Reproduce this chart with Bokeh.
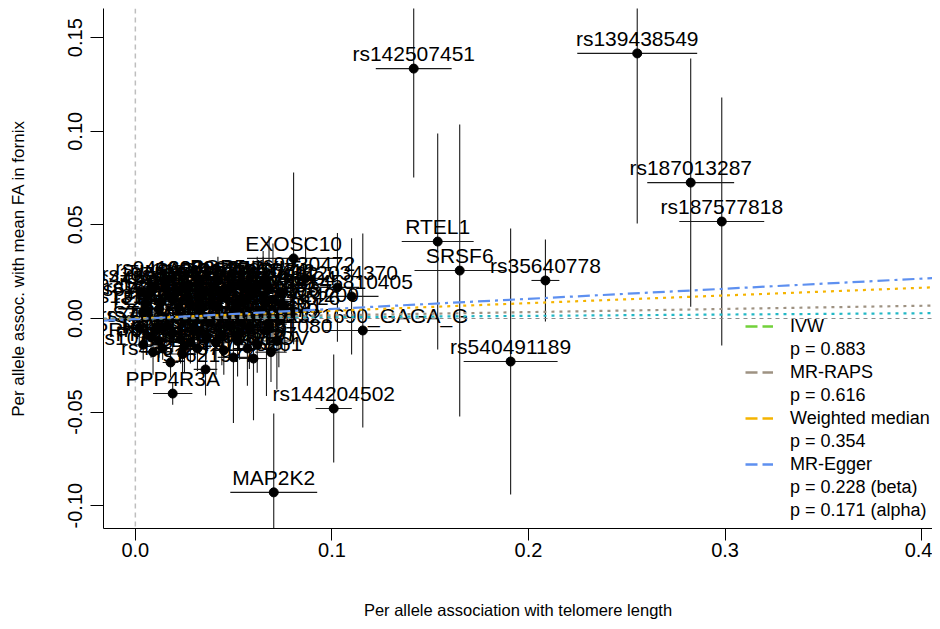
import numpy as np
from bokeh.plotting import figure
from bokeh.models import Range1d, FixedTicker, Span, Legend, LegendItem, ColumnDataSource
from bokeh.core.properties import value
from bokeh.embed import file_html
from bokeh.resources import INLINE

# ---------------- data ----------------
snp_label = [
    "rs142507451", "rs139438549", "rs187013287", "rs187577818", "RTEL1", "SRSF6",
    "rs35640778", "rs540491189", "rs144204502", "MAP2K2", "rs62321690_GAGA_G",
    "EXOSC10", "PPP4R3A", "rs112034370", "rs145810405", "rs9930472", "LOC101927412",
    "PPP1R3B", "rs1621977", "rs1125261", "rs4387287", "rs10936599", "rs7675998",
    "rs8105767", "rs2736100", "rs7705526",
    "TERT", "TERC", "OBFC1", "NAF1", "ACYP2", "ZNF208", "CTC1", "DCAF4", "PXK",
    "ZNF676", "MPHOSPH6", "SENP7", "TERF1", "TINF2", "POT1", "PARP1", "ATM",
    "NKX2-3", "MYNN", "BICD1", "CXCR4", "PRRC2A", "DHX35", "SAMHD1", "STN1",
    "rs6772228", "rs2293607", "rs7726159", "rs3027234", "rs412658", "rs11125529",
    "rs10784470", "rs2302588", "rs3785074", "rs9419958", "rs1317082", "rs4452212",
    "rs55749605", "rs6028466", "rs75691080", "LOC102724200", "rs2853677",
    "rs7194734", "rs11787341",
    "rs1975174", "rs2967374", "rs4691895", "rs6060627", "rs7776744", "rs8316",
    "rs10466239", "rs11191865", "rs12696304", "rs13137667", "rs16847897", "rs2124616",
    "rs2630778", "rs3219104", "rs4902100", "rs55985967", "rs59294613", "rs6560979",
    "rs7252767", "rs74619035", "rs8068318", "rs9325507", "rs9972838", "LOC105372",
    "SH2B3", "TYMS", "MYEOV", "PRKAR1B", "RFWD3", "CCDC26", "CARMIL1", "POP5",
    "ETAA1", "TSPYL5", "AKT3", "ZBTB46",
]
beta_x = [
    0.1416, 0.2553, 0.2825, 0.2983, 0.1538, 0.1650,
    0.2086, 0.1909, 0.1009, 0.0704, 0.1157,
    0.0805, 0.0190, 0.1028, 0.1100, 0.0866, 0.0535,
    0.0139, 0.0357, 0.0601, 0.0179, 0.0316, 0.0499,
    0.0570, 0.0667, 0.0790,
    0.0060, 0.0120, 0.0210, 0.0280, 0.0350, 0.0420, 0.0160, 0.0240, 0.0300,
    0.0380, 0.0460, 0.0080, 0.0040, 0.0100, 0.0190, 0.0270, 0.0330,
    0.0440, 0.0500, 0.0550, 0.0600, 0.0640, 0.0700, 0.0730, 0.0020,
    0.0050, 0.0140, 0.0230, 0.0320, 0.0400, 0.0480,
    0.0090, 0.0580, 0.0620, 0.0150, 0.0680, 0.0030,
    0.0410, 0.0520, 0.0720, 0.0760, 0.0250,
    0.0110, 0.0650,
    0.0080, 0.0170, 0.0250, 0.0330, 0.0440, 0.0510,
    0.0580, 0.0660, 0.0740, 0.0060, 0.0130, 0.0220,
    0.0310, 0.0390, 0.0470, 0.0540, 0.0610, 0.0680,
    0.0750, 0.0100, 0.0190, 0.0280, 0.0360, 0.0450,
    0.0530, 0.0620, 0.0690, 0.0040, 0.0120, 0.0240,
    0.0340, 0.0420, 0.0570, 0.0650, 0.0270, 0.0480,
]
beta_y = [
    0.1335, 0.1416, 0.0726, 0.0518, 0.0411, 0.0256,
    0.0203, -0.0230, -0.0481, -0.0929, -0.0064,
    0.0321, -0.0401, 0.0166, 0.0118, 0.0214, 0.0176,
    -0.0160, -0.0272, -0.0214, -0.0235, -0.0160, -0.0208,
    -0.0160, -0.0064, 0.0032,
    0.0120, 0.0050, 0.0140, 0.0080, 0.0150, 0.0060, -0.0040, 0.0010, -0.0070,
    -0.0020, 0.0110, -0.0100, 0.0030, 0.0170, 0.0100, 0.0180, 0.0030,
    -0.0090, 0.0030, 0.0090, 0.0140, 0.0040, 0.0100, -0.0010, -0.0050,
    0.0080, 0.0010, -0.0110, 0.0110, 0.0170, -0.0040,
    -0.0180, -0.0050, 0.0180, 0.0190, 0.0160, 0.0140,
    -0.0130, -0.0120, -0.0120, 0.0050, -0.0150,
    -0.0060, 0.0120,
    0.0160, 0.0120, 0.0160, 0.0190, 0.0140, 0.0080,
    0.0120, 0.0080, 0.0140, 0.0040, 0.0090, 0.0060,
    0.0000, 0.0080, 0.0010, -0.0020, 0.0010, -0.0030,
    0.0070, -0.0060, -0.0080, -0.0130, -0.0100, -0.0170,
    -0.0080, -0.0140, -0.0180, -0.0140, -0.0120, -0.0190,
    0.0060, 0.0200, 0.0180, 0.0190, 0.0110, 0.0160,
]
ci_x = [
    0.0193, 0.0305, 0.0221, 0.0216, 0.0183, 0.0230,
    0.0071, 0.0239, 0.0092, 0.0221, 0.0196,
    0.0237, 0.0100, 0.0110, 0.0137, 0.0120, 0.0060,
    0.0050, 0.0060, 0.0070, 0.0040, 0.0060, 0.0080,
    0.0070, 0.0090, 0.0100,
    0.0050, 0.0060, 0.0070, 0.0050, 0.0080, 0.0060, 0.0050, 0.0070, 0.0060,
    0.0080, 0.0090, 0.0060, 0.0070, 0.0050, 0.0060, 0.0080, 0.0070,
    0.0090, 0.0060, 0.0080, 0.0070, 0.0090, 0.0100, 0.0080, 0.0060,
    0.0050, 0.0060, 0.0070, 0.0080, 0.0060, 0.0090,
    0.0060, 0.0100, 0.0080, 0.0070, 0.0090, 0.0080,
    0.0070, 0.0080, 0.0110, 0.0090, 0.0060,
    0.0070, 0.0080,
    0.0060, 0.0050, 0.0070, 0.0060, 0.0080, 0.0050,
    0.0070, 0.0090, 0.0060, 0.0050, 0.0060, 0.0070,
    0.0080, 0.0060, 0.0070, 0.0050, 0.0080, 0.0090,
    0.0070, 0.0060, 0.0050, 0.0070, 0.0080, 0.0060,
    0.0070, 0.0090, 0.0080, 0.0050, 0.0060, 0.0070,
    0.0060, 0.0080, 0.0070, 0.0090, 0.0060, 0.0070,
]
ci_y = [
    0.0582, 0.0909, 0.0663, 0.0663, 0.0577, 0.0780,
    0.0219, 0.0711, 0.0288, 0.0422, 0.0518,
    0.0459, 0.0060, 0.0290, 0.0310, 0.0220, 0.0120,
    0.0060, 0.0139, 0.0330, 0.0080, 0.0120, 0.0350,
    0.0200, 0.0350, 0.0150,
    0.0080, 0.0100, 0.0120, 0.0090, 0.0110, 0.0130, 0.0100, 0.0090, 0.0120,
    0.0140, 0.0150, 0.0110, 0.0090, 0.0080, 0.0100, 0.0120, 0.0130,
    0.0160, 0.0140, 0.0150, 0.0170, 0.0200, 0.0300, 0.0250, 0.0100,
    0.0090, 0.0110, 0.0130, 0.0120, 0.0100, 0.0180,
    0.0120, 0.0220, 0.0150, 0.0090, 0.0280, 0.0100,
    0.0170, 0.0190, 0.0260, 0.0230, 0.0140,
    0.0110, 0.0240,
    0.0090, 0.0100, 0.0080, 0.0120, 0.0110, 0.0130,
    0.0140, 0.0120, 0.0150, 0.0080, 0.0090, 0.0100,
    0.0110, 0.0120, 0.0130, 0.0100, 0.0140, 0.0160,
    0.0120, 0.0090, 0.0100, 0.0110, 0.0120, 0.0130,
    0.0140, 0.0150, 0.0160, 0.0080, 0.0090, 0.0100,
    0.0110, 0.0130, 0.0120, 0.0140, 0.0100, 0.0120,
]

method_name = ["IVW", "MR-RAPS", "Weighted median", "MR-Egger"]
method_p = [["p = 0.883"], ["p = 0.616"], ["p = 0.354"], ["p = 0.228 (beta)", "p = 0.171 (alpha)"]]
method_slope = [0.007, 0.017, 0.041, 0.054]
method_intercept = [0.0, 0.0, 0.0, -0.0003]
method_line_color = ["#22B8C6", "#9E9282", "#F5B400", "#5E90F0"]
method_legend_color = ["#72D13A", "#9E9282", "#F5B400", "#5E90F0"]
method_dash = ["3 5", "3 5", "3 5", "12 5 3 5"]

x_ticks = [0.0, 0.1, 0.2, 0.3, 0.4]
x_tick_labels = ["0.0", "0.1", "0.2", "0.3", "0.4"]
y_ticks = [-0.10, -0.05, 0.0, 0.05, 0.10, 0.15]
y_tick_labels = ["-0.10", "-0.05", "0.00", "0.05", "0.10", "0.15"]

x_lo, x_hi = -0.0162, 0.4055
y_lo, y_hi = -0.1122, 0.1656

FONT = "Liberation Sans"

# ---------------- figure ----------------
p = figure(width=932, height=621, output_backend="svg", toolbar_location=None,
           x_range=Range1d(x_lo, x_hi), y_range=Range1d(y_lo, y_hi),
           min_border_left=103, min_border_right=0, min_border_top=8, min_border_bottom=93)
p.outline_line_color = None
p.grid.visible = False
p.background_fill_color = "white"

# reference lines
p.add_layout(Span(location=0, dimension="height", line_color="#BEBEBE",
                  line_dash="5 4", line_width=1.5, level="underlay"))

bx = np.array(beta_x); byy = np.array(beta_y)
cx = np.array(ci_x); cy = np.array(ci_y)
src = ColumnDataSource(dict(x=bx, y=byy, x0=bx - cx, x1=bx + cx, y0=byy - cy, y1=byy + cy,
                            lab=snp_label))

p.segment(x0="x0", y0="y", x1="x1", y1="y", source=src, line_color="#1a1a1a", line_width=1.1)
p.segment(x0="x", y0="y0", x1="x", y1="y1", source=src, line_color="#1a1a1a", line_width=1.1)
p.scatter(x="x", y="y", source=src, size=9, fill_color="black", line_color="black")
p.text(x="x", y="y", text="lab", source=src, text_font=value(FONT), text_font_size="21px",
       text_align="center", text_baseline="middle", y_offset=-15, text_color="black")

p.add_layout(Span(location=0, dimension="width", line_color="#8C8C8C",
                  line_dash="4 4", line_width=1.2))

xs = np.array([x_lo, x_hi])
for i in range(len(method_name)):
    p.line(xs, method_intercept[i] + method_slope[i] * xs, line_color=method_line_color[i],
           line_dash=method_dash[i], line_width=2.2)

# legend (samples carry no plotted data)
nan_pt = [np.nan]
items = []
for i, nm in enumerate(method_name):
    r = p.line(nan_pt, nan_pt, line_color=method_legend_color[i], line_dash="12 5", line_width=2.5)
    items.append(LegendItem(label=nm, renderers=[r]))
    for t in method_p[i]:
        rb = p.line(nan_pt, nan_pt, line_alpha=0)
        items.append(LegendItem(label=t, renderers=[rb]))
legend = Legend(items=items, location=(642, 7), padding=0, margin=0, spacing=1,
                glyph_width=28, glyph_height=22, label_height=22, label_standoff=17,
                label_text_font=FONT, label_text_font_size="18px", label_text_color="black",
                border_line_alpha=0, background_fill_alpha=0)
p.add_layout(legend)

# axes
for ax in (p.xaxis[0], p.yaxis[0]):
    ax.major_tick_in = 0
    ax.minor_tick_line_color = None
    ax.axis_line_color = "black"
    ax.major_tick_line_color = "black"
    ax.major_label_text_font = FONT
    ax.major_label_text_font_size = "20px"
    ax.major_label_text_color = "black"
    ax.axis_label_text_font = FONT
    ax.axis_label_text_font_style = "normal"
    ax.axis_label_text_color = "black"

p.xaxis.ticker = FixedTicker(ticks=x_ticks)
p.xaxis.major_label_overrides = dict(zip(x_ticks, x_tick_labels))
p.xaxis.major_tick_out = 12
p.xaxis.major_label_standoff = 2
p.xaxis.axis_label = "Per allele association with telomere length"
p.xaxis.axis_label_text_font_size = "16.5px"
p.xaxis.axis_label_standoff = 41

p.yaxis.ticker = FixedTicker(ticks=y_ticks)
p.yaxis.major_label_overrides = dict(zip(y_ticks, y_tick_labels))
p.yaxis.major_tick_out = 13
p.yaxis.major_label_standoff = 8
p.yaxis.major_label_orientation = "parallel"
p.yaxis.axis_label = "Per allele assoc. with mean FA in fornix"
p.yaxis.axis_label_text_font_size = "17px"
p.yaxis.axis_label_standoff = 38

open("out.html", "w").write(file_html(p, INLINE))
